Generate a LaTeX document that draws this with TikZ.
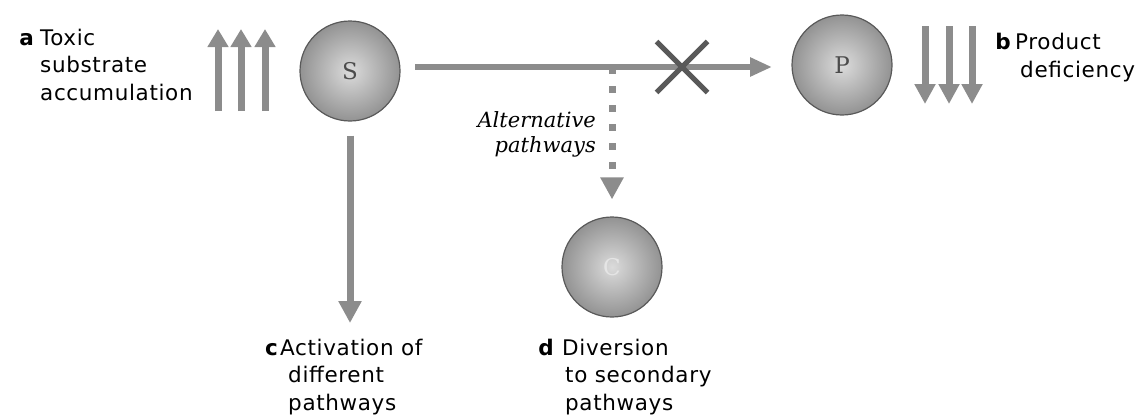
\documentclass[tikz,border=0pt]{standalone}
\usepackage{fontspec}
\setmainfont[LetterSpace=3]{DejaVu Sans}
\newfontfamily\itserif{DejaVu Serif}
\usetikzlibrary{arrows.meta,shapes.misc}
\definecolor{arrowgray}{gray}{0.55}
\begin{document}
\begin{tikzpicture}[x=1pt,y=-1pt,
  ball/.style={circle, minimum size=100pt, inner sep=0pt, draw=black!65, line width=1.2pt,
    inner color=gray!28, outer color=gray!85,
    font=\itserif\fontsize{23}{23}\selectfont\color{black!70}},
  fat/.style={draw=arrowgray, line width=7pt, -{Triangle[width=22pt,length=22pt]}},
  lbl/.style={align=left, font=\fontsize{21.5}{27.5}\selectfont, inner sep=0pt, anchor=base west},
  letter/.style={font=\bfseries\fontsize{21.5}{27.5}\selectfont, inner sep=0pt, anchor=base east},
  ital/.style={align=right, font=\itserif\itshape\fontsize{21}{25}\selectfont, inner sep=0pt, anchor=base east},
  crossmark/.style={cross out, draw=black!65, line width=5pt, minimum size=46pt, inner sep=0pt},
]
\useasboundingbox (0,0) rectangle (1147,415);

% balls
\node[ball] (S) at (350,71) {S};
\node[ball] (P) at (842,65) {P};
\node[ball, text=white!80!gray] (C) at (612,267) {C};

% main pathway
\coordinate (hs) at (415,67);
\coordinate (he) at (772,67);
\coordinate (br) at (612,67);
\draw[fat, line width=6pt, -{Triangle[width=18pt,length=22pt]}] (hs) -- (he);
\node[crossmark] (X) at (682,67) {};

% alternative (dashed)
\draw[fat, dash pattern=on 7pt off 12pt] (br) -- ([yshift=17pt]C.north);
\node[ital] (alt) at (596,152) {Alternative\\pathways};

% activation of different pathways
\coordinate (ve) at (350,323);
\draw[fat] ([yshift=-14pt]S.south) -- (ve);

% up arrows
\foreach \x [count=\i] in {218,241,265}{
  \coordinate (ub\i) at (\x,111);
  \coordinate (ut\i) at (\x,29);
  \draw[fat, -{Triangle[width=20pt,length=18pt]}] (ub\i) -- (ut\i);
}
% down arrows
\foreach \x [count=\i] in {925,949,972}{
  \coordinate (dt\i) at (\x,26);
  \coordinate (db\i) at (\x,104);
  \draw[fat, -{Triangle[width=20pt,length=20pt]}] (dt\i) -- (db\i);
}

% labels (anchored at the baseline of their last line)
\node[lbl] (ta) at (40,100) {Toxic\\substrate\\accumulation};
\node[letter] (la) at ([xshift=-6pt,yshift=55pt]ta.base west) {a};

\node[lbl] (tb) at (1015,77) {Product\\\hspace*{5pt}deficiency};
\node[letter] (lb) at ([xshift=-4pt,yshift=27.5pt]tb.base west) {b};

\node[lbl] (tc) at (280,410) {Activation of\\\hspace*{8pt}different\\\hspace*{8pt}pathways};
\node[letter] (lc) at ([xshift=-2pt,yshift=55pt]tc.base west) {c};

\node[lbl] (td) at (562,410) {Diversion\\\hspace*{3pt}to secondary\\\hspace*{3pt}pathways};
\node[letter] (ld) at ([xshift=-8pt,yshift=55pt]td.base west) {d};
\end{tikzpicture}
\end{document}
